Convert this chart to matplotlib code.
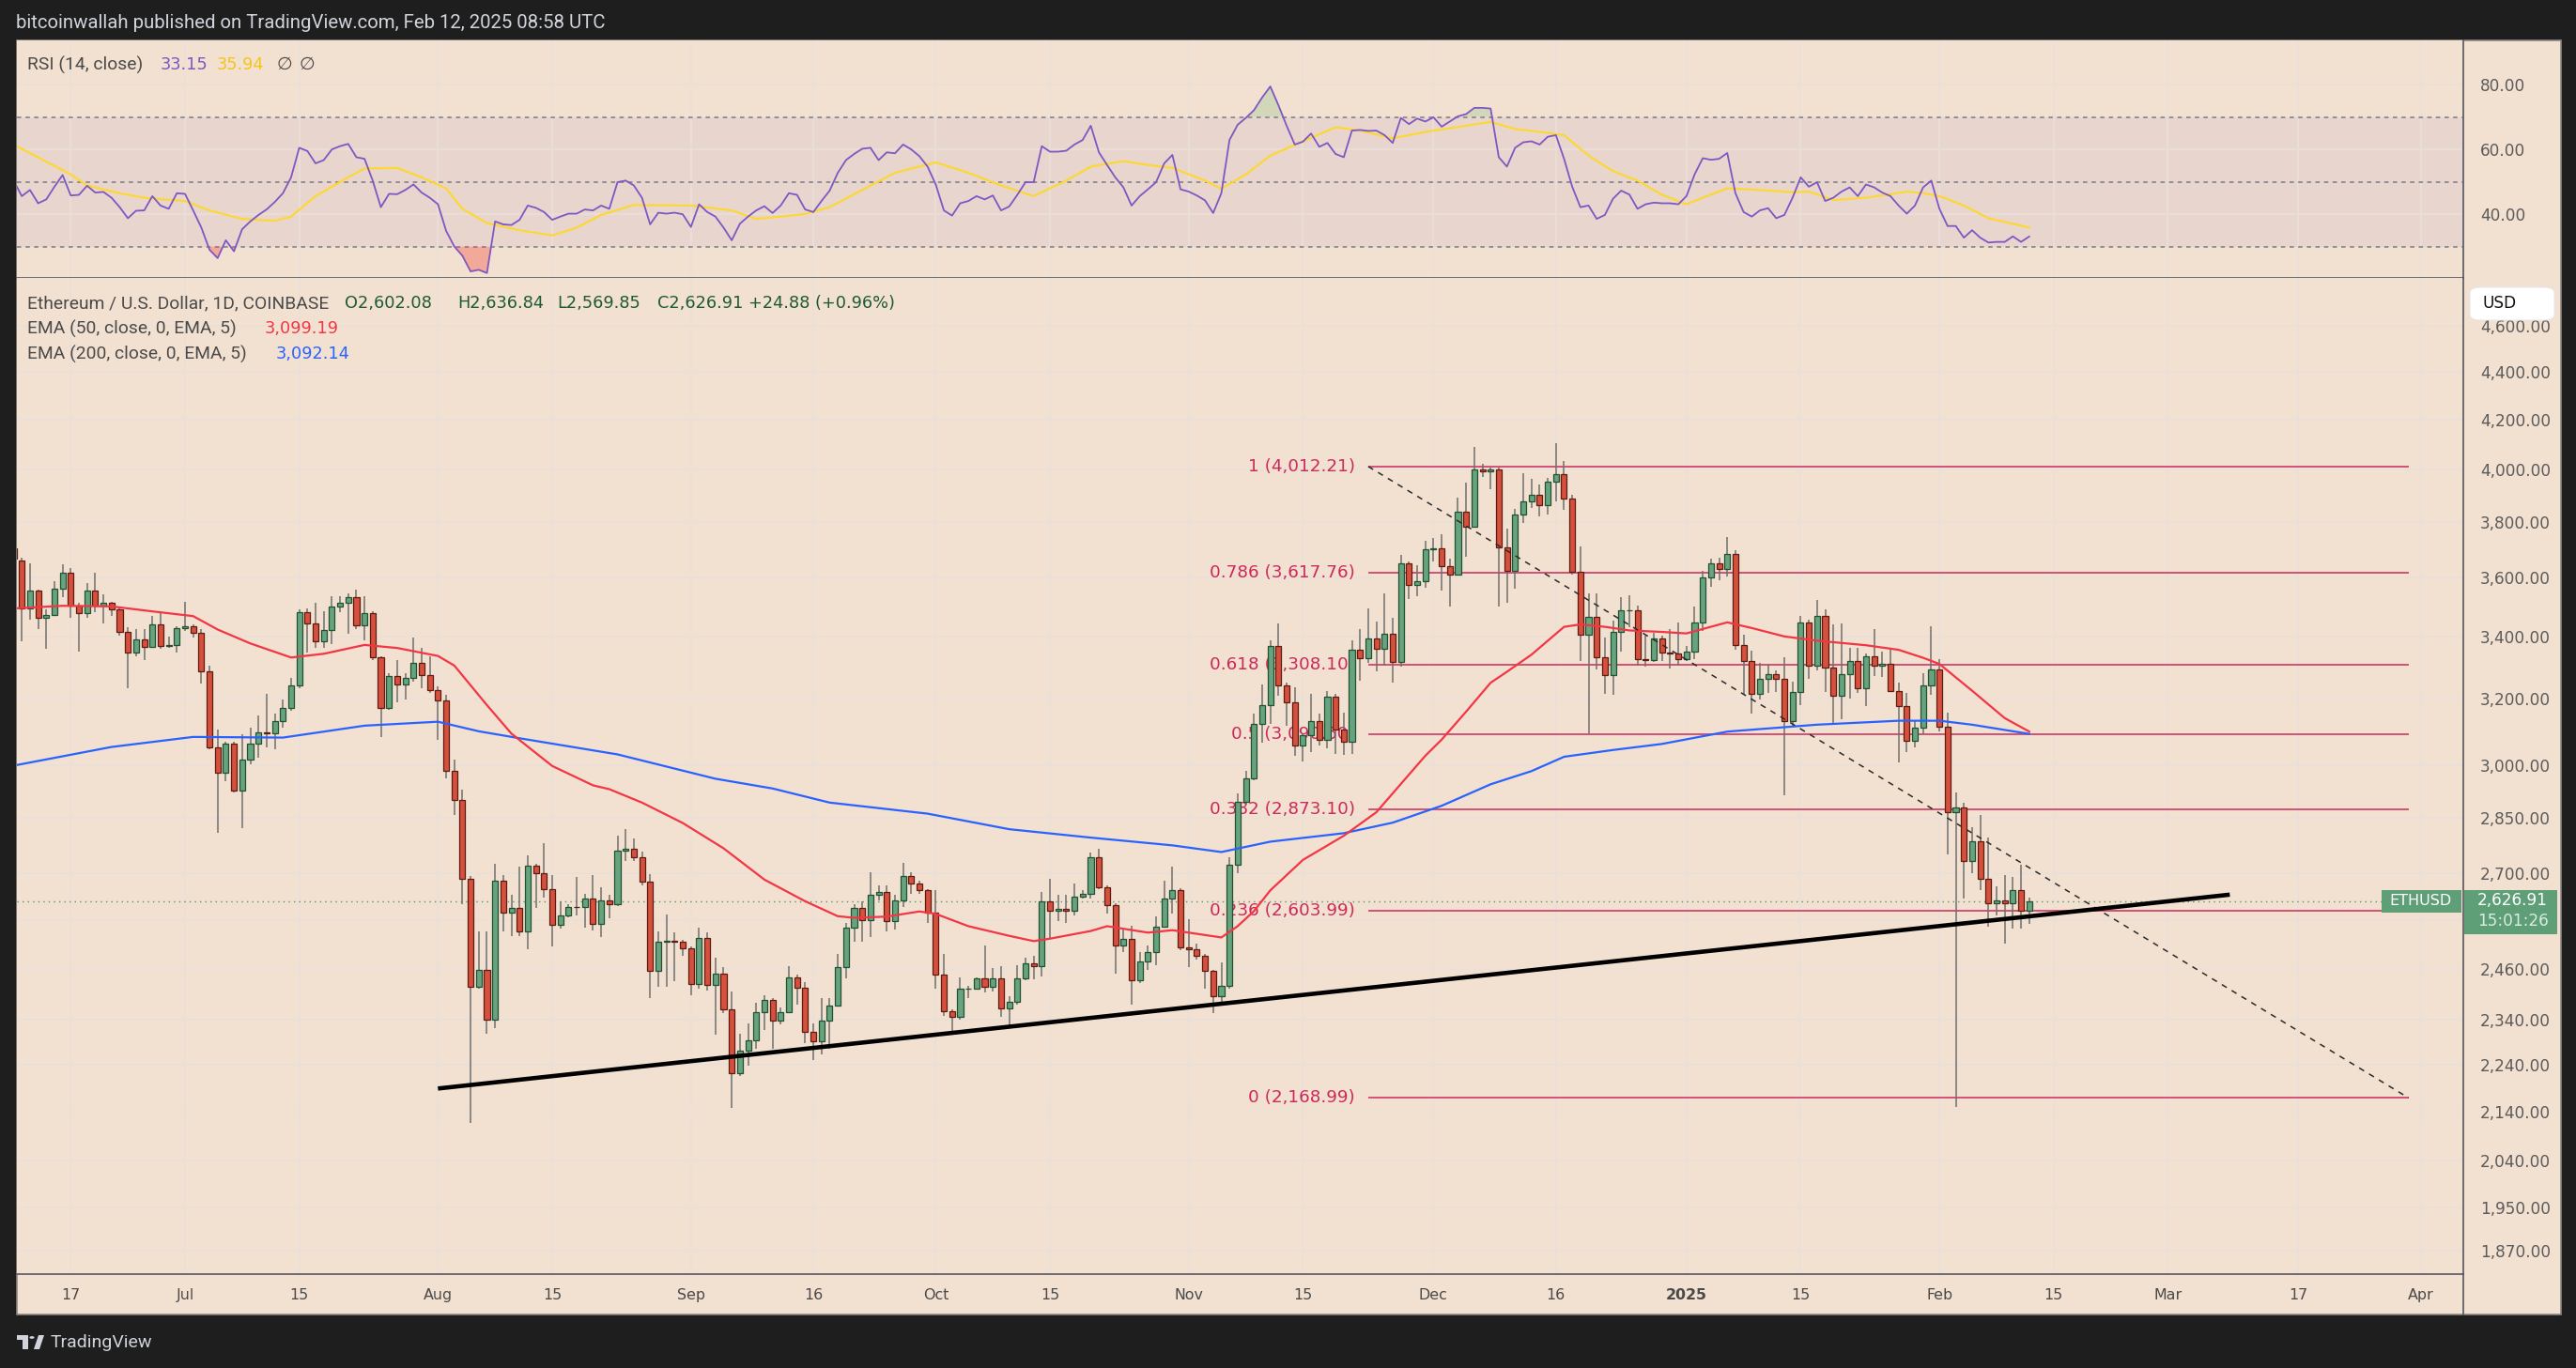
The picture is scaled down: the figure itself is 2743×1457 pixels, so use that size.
import matplotlib
matplotlib.use("Agg")
import matplotlib.pyplot as plt
import matplotlib.dates as mdates
from matplotlib.patches import Rectangle, FancyBboxPatch, Polygon, Circle
from matplotlib.lines import Line2D
from matplotlib.ticker import NullLocator
import numpy as np
import pandas as pd

plt.rcParams["font.family"] = ["DejaVu Sans"]

# ---------------- data (ETH/USD daily, COINBASE) ----------------
first_day = "2024-06-10"   # one candle per day up to 2025-02-12

opens = [
    3705, 3660, 3494, 3554, 3461, 3473, 3561, 3617, 3503, 3477, 3554, 3505, 3512, 3490, 3414, 3347, 3389, 3367, 3439, 3369, 3372,  # Jun
    3427, 3434, 3412, 3286, 3053, 2977, 3062, 2927, 3015, 3062, 3096, 3094, 3130, 3171, 3241, 3481, 3443, 3383, 3421, 3500, 3514, 3532, 3437, 3479, 3333, 3170, 3270, 3245, 3264, 3313, 3274,  # Jul
    3226, 3196, 2982, 2899, 2686, 2416, 2458, 2341, 2680, 2598, 2609, 2552, 2720, 2700, 2659, 2567, 2590, 2613, 2612, 2635, 2570, 2630, 2620, 2760, 2765, 2741, 2677, 2454, 2525, 2528, 2526,  # Aug
    2509, 2423, 2534, 2421, 2448, 2364, 2222, 2271, 2294, 2357, 2386, 2339, 2359, 2439, 2414, 2313, 2292, 2339, 2374, 2464, 2560, 2609, 2579, 2643, 2650, 2576, 2629, 2692, 2672, 2655,  # Sep
    2597, 2445, 2361, 2347, 2412, 2413, 2436, 2418, 2436, 2366, 2381, 2436, 2472, 2466, 2626, 2602, 2607, 2602, 2638, 2646, 2741, 2663, 2616, 2517, 2532, 2432, 2478, 2501, 2562, 2634, 2655,  # Oct
    2511, 2506, 2491, 2454, 2395, 2420, 2722, 2893, 2960, 3123, 3180, 3370, 3243, 3188, 3056, 3088, 3130, 3075, 3206, 3106, 3069, 3356, 3329, 3393, 3360, 3408, 3318, 3650, 3575, 3587,  # Nov
    3701, 3704, 3641, 3612, 3838, 3784, 4000, 3993, 4000, 3708, 3624, 3827, 3877, 3902, 3864, 3953, 3981, 3889, 3620, 3407, 3465, 3333, 3275, 3414, 3487, 3489, 3326, 3324, 3393, 3347, 3345,  # Dec
    3326, 3349, 3445, 3600, 3650, 3632, 3684, 3371, 3319, 3216, 3261, 3276, 3261, 3131, 3220, 3445, 3305, 3470, 3297, 3208, 3276, 3319, 3234, 3334, 3305, 3312, 3225, 3176, 3072, 3110, 3242,  # Jan
    3293, 3113, 2865, 2879, 2731, 2784, 2684, 2621, 2628, 2623, 2656, 2602.08,  # Feb
]
highs = [
    3720, 3670, 3650, 3560, 3490, 3587, 3647, 3634, 3512, 3582, 3618, 3543, 3516, 3498, 3430, 3423, 3423, 3470, 3480, 3401, 3433,
    3515, 3440, 3423, 3305, 3106, 3069, 3069, 3091, 3110, 3149, 3215, 3154, 3198, 3264, 3491, 3494, 3512, 3484, 3536, 3536, 3544, 3558, 3536, 3484, 3336, 3281, 3324, 3281, 3395, 3362, 3336,
    3238, 3213, 3015, 2930, 2693, 2552, 2552, 2724, 2695, 2644, 2716, 2748, 2724, 2780, 2695, 2626, 2620, 2690, 2646, 2695, 2662, 2643, 2800, 2819, 2792, 2758, 2698, 2552, 2593, 2548, 2529,
    2514, 2560, 2549, 2487, 2463, 2407, 2310, 2333, 2380, 2397, 2390, 2368, 2465, 2445, 2427, 2333, 2390, 2391, 2495, 2572, 2619, 2627, 2702, 2667, 2667, 2643, 2727, 2702, 2680, 2659,
    2655, 2496, 2365, 2439, 2420, 2440, 2517, 2461, 2466, 2395, 2468, 2487, 2491, 2651, 2684, 2643, 2643, 2672, 2655, 2754, 2764, 2669, 2623, 2556, 2564, 2501, 2517, 2588, 2680, 2717, 2661,
    2581, 2521, 2495, 2457, 2476, 2741, 2917, 2982, 3154, 3244, 3387, 3444, 3250, 3237, 3095, 3216, 3154, 3225, 3216, 3157, 3387, 3423, 3494, 3451, 3547, 3462, 3680, 3659, 3644, 3733,
    3741, 3757, 3668, 3894, 3951, 4090, 4023, 4007, 4007, 3776, 3848, 3985, 3963, 3943, 3968, 4103, 4035, 3902, 3710, 3547, 3547, 3397, 3454, 3532, 3538, 3505, 3404, 3411, 3404, 3423, 3448,
    3370, 3501, 3625, 3666, 3670, 3745, 3699, 3407, 3353, 3315, 3312, 3290, 3332, 3254, 3470, 3455, 3524, 3492, 3439, 3444, 3363, 3363, 3344, 3425, 3349, 3357, 3251, 3218, 3130, 3280, 3434,
    3327, 3158, 2920, 2891, 2823, 2857, 2794, 2666, 2694, 2691, 2721, 2636.84,
]
lows = [
    3640, 3385, 3457, 3423, 3359, 3468, 3533, 3461, 3349, 3461, 3480, 3443, 3470, 3404, 3232, 3334, 3324, 3362, 3360, 3362, 3346,
    3417, 3397, 3247, 3047, 2808, 2954, 2922, 2820, 3003, 3021, 3053, 3045, 3112, 3162, 3232, 3346, 3362, 3362, 3375, 3480, 3410, 3423, 3387, 3324, 3083, 3166, 3188, 3198, 3253, 3232, 3219,
    3075, 2962, 2857, 2620, 2116, 2412, 2309, 2321, 2552, 2539, 2539, 2507, 2610, 2636, 2515, 2559, 2586, 2591, 2560, 2554, 2537, 2583, 2615, 2731, 2733, 2667, 2391, 2418, 2418, 2430, 2491,
    2398, 2412, 2409, 2306, 2355, 2149, 2215, 2239, 2275, 2318, 2275, 2330, 2355, 2376, 2287, 2251, 2263, 2275, 2370, 2436, 2525, 2525, 2537, 2630, 2552, 2556, 2613, 2647, 2645, 2573,
    2412, 2350, 2310, 2340, 2390, 2410, 2404, 2405, 2348, 2326, 2376, 2432, 2434, 2442, 2534, 2576, 2573, 2591, 2635, 2635, 2659, 2595, 2449, 2501, 2376, 2425, 2458, 2468, 2560, 2596, 2505,
    2463, 2483, 2412, 2355, 2376, 2412, 2699, 2885, 2955, 3065, 3123, 3210, 3117, 3027, 3011, 3037, 3058, 3050, 3032, 3030, 3032, 3257, 3313, 3286, 3304, 3250, 3300, 3527, 3535, 3565,
    3659, 3556, 3501, 3610, 3675, 3781, 3972, 3926, 3501, 3513, 3563, 3797, 3853, 3820, 3828, 3877, 3845, 3610, 3319, 3094, 3292, 3216, 3212, 3350, 3431, 3306, 3300, 3317, 3319, 3296, 3306,
    3320, 3327, 3419, 3567, 3590, 3606, 3355, 3213, 3155, 3197, 3218, 3222, 2913, 3118, 3180, 3261, 3290, 3222, 3124, 3138, 3200, 3218, 3178, 3271, 3268, 3222, 3008, 3038, 3052, 3091, 3211,
    3099, 2749, 2150, 2633, 2700, 2656, 2563, 2590, 2521, 2558, 2558, 2569.85,
]
closes = [
    3667, 3494, 3554, 3461, 3473, 3561, 3617, 3503, 3477, 3554, 3505, 3512, 3490, 3414, 3347, 3389, 3367, 3439, 3369, 3372, 3427,
    3434, 3412, 3286, 3053, 2977, 3062, 2927, 3015, 3062, 3096, 3094, 3130, 3171, 3241, 3481, 3443, 3383, 3421, 3500, 3514, 3532, 3437, 3479, 3333, 3170, 3270, 3245, 3264, 3313, 3274, 3226,
    3196, 2982, 2899, 2686, 2416, 2458, 2341, 2680, 2598, 2609, 2552, 2720, 2700, 2659, 2567, 2590, 2613, 2612, 2635, 2570, 2630, 2620, 2760, 2765, 2741, 2677, 2454, 2525, 2528, 2526, 2509,
    2423, 2534, 2421, 2448, 2364, 2222, 2271, 2294, 2357, 2386, 2339, 2359, 2439, 2414, 2313, 2292, 2339, 2374, 2464, 2560, 2609, 2579, 2643, 2650, 2576, 2629, 2692, 2672, 2655, 2597,
    2445, 2361, 2347, 2412, 2413, 2436, 2418, 2436, 2366, 2381, 2436, 2472, 2466, 2626, 2602, 2607, 2602, 2638, 2646, 2741, 2663, 2616, 2517, 2532, 2432, 2478, 2501, 2562, 2634, 2655, 2511,
    2506, 2491, 2454, 2395, 2420, 2722, 2893, 2960, 3123, 3180, 3370, 3243, 3188, 3056, 3088, 3130, 3075, 3206, 3106, 3069, 3356, 3329, 3393, 3360, 3408, 3318, 3650, 3575, 3587, 3701,
    3704, 3641, 3612, 3838, 3784, 4000, 3993, 4000, 3708, 3624, 3827, 3877, 3902, 3864, 3953, 3981, 3889, 3620, 3407, 3465, 3333, 3275, 3414, 3487, 3489, 3326, 3324, 3393, 3347, 3345, 3326,
    3349, 3445, 3600, 3650, 3632, 3684, 3371, 3319, 3216, 3261, 3276, 3261, 3131, 3220, 3445, 3305, 3470, 3297, 3208, 3276, 3319, 3234, 3334, 3305, 3312, 3225, 3176, 3072, 3110, 3242, 3293,
    3113, 2865, 2879, 2731, 2784, 2684, 2621, 2628, 2623, 2656, 2602, 2626.91,
]

rsi_values = [
    50.4, 45.6, 47.5, 43.4, 44.6, 48.5, 52.1, 45.8, 46.0, 48.8, 46.7, 46.9, 45.1, 42.2, 38.8, 41.1, 41.2, 45.6, 42.7, 41.7, 46.5,
    46.3, 41.2, 35.9, 29.1, 26.5, 32.0, 28.6, 35.4, 37.8, 39.8, 41.5, 43.8, 46.5, 51.4, 60.5, 59.5, 55.7, 56.7, 60.0, 61.0, 61.7, 57.6, 57.1, 50.4, 42.2, 46.3, 46.2, 47.5, 49.2, 46.7, 45.1,
    43.1, 34.9, 30.1, 27.2, 22.4, 22.9, 21.9, 37.8, 36.9, 36.7, 38.3, 42.7, 42.0, 40.7, 38.3, 39.3, 40.2, 40.2, 41.5, 41.2, 42.7, 41.7, 49.9, 50.4, 48.9, 45.1, 36.9, 40.5, 40.2, 40.5, 40.0,
    36.1, 43.1, 40.7, 39.3, 35.9, 32.0, 37.1, 39.3, 41.2, 42.5, 40.4, 42.7, 46.5, 46.0, 41.5, 40.7, 44.1, 47.3, 52.8, 56.7, 58.6, 60.2, 60.5, 56.7, 59.1, 58.8, 61.5, 60.0, 57.9, 54.7,
    49.2, 41.2, 39.6, 43.4, 44.1, 45.6, 44.6, 45.8, 41.2, 42.4, 46.0, 49.9, 49.9, 61.0, 59.3, 59.3, 59.6, 61.5, 62.9, 67.3, 59.1, 55.2, 51.4, 48.3, 42.7, 45.6, 47.7, 49.9, 55.7, 58.3, 47.7,
    47.0, 45.8, 44.3, 40.4, 46.5, 62.9, 67.6, 69.7, 72.1, 76.0, 79.4, 73.6, 67.3, 61.5, 62.4, 64.9, 60.8, 62.0, 58.6, 57.6, 65.8, 66.0, 65.7, 65.8, 64.4, 62.0, 69.7, 67.8, 69.5, 68.6,
    69.9, 67.0, 68.6, 70.2, 70.9, 72.8, 72.8, 72.6, 57.6, 54.7, 60.5, 62.2, 62.5, 61.5, 63.9, 64.4, 57.1, 48.5, 42.2, 42.7, 38.6, 39.8, 44.8, 47.3, 46.1, 41.7, 43.1, 43.6, 43.4, 43.4, 43.1,
    45.6, 52.3, 57.3, 56.8, 57.1, 58.9, 46.5, 40.7, 39.3, 41.2, 41.9, 38.8, 39.8, 45.1, 51.4, 48.5, 49.9, 44.1, 45.1, 47.0, 48.3, 45.6, 49.2, 48.3, 46.7, 45.6, 42.7, 40.2, 42.7, 48.3, 50.4,
    41.7, 36.4, 36.4, 32.8, 35.1, 32.8, 31.3, 31.5, 31.5, 33.2, 31.5, 33.15,
]

rsi_ma_dates = [
    "2024-06-10", "2024-06-14", "2024-06-17", "2024-06-19", "2024-06-23", "2024-06-26", "2024-07-01", "2024-07-04",
    "2024-07-08", "2024-07-12", "2024-07-14", "2024-07-17", "2024-07-21", "2024-07-23", "2024-07-27", "2024-07-30",
    "2024-08-02", "2024-08-04", "2024-08-07", "2024-08-11", "2024-08-15", "2024-08-18", "2024-08-21", "2024-08-25",
    "2024-09-01", "2024-09-06", "2024-09-09", "2024-09-12", "2024-09-15", "2024-09-18", "2024-09-22", "2024-09-26",
    "2024-10-01", "2024-10-05", "2024-10-09", "2024-10-13", "2024-10-17", "2024-10-20", "2024-10-24", "2024-10-27",
    "2024-10-30", "2024-11-03", "2024-11-05", "2024-11-08", "2024-11-11", "2024-11-15", "2024-11-19", "2024-11-22",
    "2024-11-26", "2024-11-30", "2024-12-05", "2024-12-08", "2024-12-11", "2024-12-15", "2024-12-17", "2024-12-20",
    "2024-12-23", "2024-12-26", "2024-12-29", "2025-01-01", "2025-01-03", "2025-01-06", "2025-01-10", "2025-01-14",
    "2025-01-16", "2025-01-19", "2025-01-23", "2025-01-28", "2025-01-30", "2025-02-01", "2025-02-04", "2025-02-07",
    "2025-02-12",
]
rsi_ma_values = [
    61.5, 56.2, 52.3, 48.9, 46.5, 45.1, 44.1, 41.2,
    38.6, 38.0, 39.3, 45.6, 51.4, 54.1, 54.3, 51.4,
    48.0, 41.7, 37.3, 35.1, 33.5, 35.9, 39.8, 42.9,
    42.7, 41.2, 38.6, 39.3, 40.1, 42.2, 47.5, 52.8,
    56.0, 52.8, 48.9, 45.6, 50.4, 54.7, 56.4, 55.2,
    54.3, 50.4, 47.9, 52.3, 58.1, 62.5, 66.8, 65.8,
    63.4, 65.4, 67.3, 68.5, 66.3, 65.1, 64.4, 58.1,
    53.3, 50.4, 46.0, 43.1, 45.1, 48.0, 47.5, 46.8,
    47.0, 44.4, 45.1, 47.0, 46.5, 45.6, 42.7, 38.8,
    35.94,
]

ema50_dates = [
    "2024-06-10", "2024-06-16", "2024-06-22", "2024-06-27", "2024-07-02", "2024-07-05", "2024-07-09", "2024-07-14",
    "2024-07-18", "2024-07-23", "2024-07-27", "2024-08-01", "2024-08-03", "2024-08-07", "2024-08-10", "2024-08-15",
    "2024-08-20", "2024-08-22", "2024-08-26", "2024-08-31", "2024-09-05", "2024-09-10", "2024-09-15", "2024-09-19",
    "2024-09-21", "2024-09-25", "2024-09-29", "2024-10-01", "2024-10-05", "2024-10-10", "2024-10-13", "2024-10-15",
    "2024-10-20", "2024-10-22", "2024-10-27", "2024-10-30", "2024-11-05", "2024-11-07", "2024-11-09", "2024-11-11",
    "2024-11-15", "2024-11-20", "2024-11-24", "2024-11-27", "2024-11-30", "2024-12-02", "2024-12-05", "2024-12-08",
    "2024-12-10", "2024-12-13", "2024-12-17", "2024-12-19", "2024-12-22", "2024-12-25", "2024-12-29", "2025-01-01",
    "2025-01-06", "2025-01-09", "2025-01-13", "2025-01-17", "2025-01-23", "2025-01-27", "2025-01-30", "2025-02-01",
    "2025-02-05", "2025-02-09", "2025-02-12",
]
ema50_values = [
    3494, 3503, 3501, 3484, 3468, 3423, 3377, 3331,
    3343, 3372, 3362, 3336, 3305, 3180, 3093, 2997,
    2941, 2930, 2892, 2835, 2766, 2683, 2627, 2589,
    2585, 2588, 2601, 2595, 2564, 2540, 2527, 2533,
    2552, 2564, 2548, 2554, 2536, 2564, 2602, 2655,
    2735, 2800, 2865, 2945, 3027, 3075, 3160, 3250,
    3285, 3340, 3432, 3440, 3432, 3420, 3415, 3410,
    3447, 3428, 3400, 3386, 3371, 3356, 3330, 3310,
    3225, 3140, 3099.19,
]

ema200_dates = [
    "2024-06-10", "2024-06-22", "2024-07-02", "2024-07-13", "2024-07-23", "2024-08-01", "2024-08-06", "2024-08-11",
    "2024-08-23", "2024-09-04", "2024-09-11", "2024-09-18", "2024-09-30", "2024-10-10", "2024-10-20", "2024-10-30",
    "2024-11-05", "2024-11-11", "2024-11-20", "2024-11-26", "2024-12-02", "2024-12-08", "2024-12-13", "2024-12-17",
    "2024-12-23", "2024-12-29", "2025-01-06", "2025-01-17", "2025-01-27", "2025-02-01", "2025-02-05", "2025-02-12",
]
ema200_values = [
    2998, 3053, 3083, 3081, 3117, 3129, 3100, 3079,
    3031, 2960, 2932, 2892, 2861, 2818, 2795, 2774,
    2756, 2784, 2807, 2836, 2883, 2944, 2982, 3024,
    3044, 3062, 3099, 3120, 3132, 3132, 3120, 3092.14,
]

fib_labels = ["1", "0.786", "0.618", "0.5", "0.382", "0.236", "0"]
fib_prices = [4012.21, 3617.76, 3308.10, 3090.60, 2873.10, 2603.99, 2168.99]
fib_span = ["2024-11-23 00:00", "2025-03-30 12:00"]

support_dates = ["2024-08-01 00:00", "2025-03-08 14:00"]
support_prices = [2189, 2644]

price_ticks = [4600, 4400, 4200, 4000, 3800, 3600, 3400, 3200, 3000, 2850, 2700, 2580,
               2460, 2340, 2240, 2140, 2040, 1950, 1870]
rsi_ticks = [40, 60, 80]
date_ticks = ["2024-06-17", "2024-07-01", "2024-07-15", "2024-08-01", "2024-08-15", "2024-09-01",
              "2024-09-16", "2024-10-01", "2024-10-15", "2024-11-01", "2024-11-15", "2024-12-01",
              "2024-12-16", "2025-01-01", "2025-01-15", "2025-02-01", "2025-02-15", "2025-03-01",
              "2025-03-17", "2025-04-01"]
date_labels = ["17", "Jul", "15", "Aug", "15", "Sep", "16", "Oct", "15", "Nov", "15", "Dec",
               "16", "2025", "15", "Feb", "15", "Mar", "17", "Apr"]

# ---------------- style ----------------
W, H = 2743, 1457
DARK = "#1e1e1e"
BG = "#f2e0d0"
GRID = "#e9e0da"
FRAME = "#55565c"
UP, UP_EDGE = "#67a37e", "#1f5132"
DN, DN_EDGE = "#d6503e", "#5e1b12"
WICK = "#6f6f6f"
FIB = "#cc2a5c"
TXT = "#4a4a4a"
SANS = ["Roboto", "DejaVu Sans"]

fig = plt.figure(figsize=(W / 100, H / 100), dpi=100, facecolor=DARK)


def fbox(x0, y0, x1, y1):
    # pixel box measured from the top-left -> figure fraction rect
    return [x0 / W, 1 - y1 / H, (x1 - x0) / W, (y1 - y0) / H]


def fpt(xp, yp):
    return xp / W, 1 - yp / H


def todate(strings):
    return mdates.date2num(pd.to_datetime(strings, format="mixed"))


# chart frame (price scale and time scale included)
fx0, fy0, fw, fh = fbox(18, 43, 2727, 1400)
fig.add_artist(Rectangle((fx0, fy0), fw, fh, transform=fig.transFigure,
                         facecolor=BG, edgecolor="#8d8781", lw=1.2, zorder=-2))

ax_rsi = fig.add_axes(fbox(18, 43, 2623, 296))
ax = fig.add_axes(fbox(18, 296, 2623, 1357), sharex=ax_rsi)

for a in (ax, ax_rsi):
    a.set_facecolor(BG)
    for s in ("left", "top"):
        a.spines[s].set_visible(False)
    a.spines["right"].set_color(FRAME)
    a.spines["bottom"].set_color(FRAME)
    a.spines["right"].set_linewidth(1.2)
    a.spines["bottom"].set_linewidth(1.2)
    a.set_axisbelow(True)
    a.grid(True, color=GRID, lw=1.2)

# vertical separator continues through the time scale
fig.add_artist(Line2D([2623 / W, 2623 / W], [1 - 1400 / H, 1 - 1357 / H],
                      transform=fig.transFigure, color=FRAME, lw=1.2))

# ---------------- candles ----------------
days = pd.date_range(first_day, periods=len(closes), freq="D")
x = mdates.date2num(days)
o = np.array(opens, float)
c = np.array(closes, float)
hi = np.array(highs, float)
lo = np.array(lows, float)
up = c >= o
body_lo = np.minimum(o, c)
body_h = np.abs(c - o)

ax.vlines(x, lo, hi, color=WICK, lw=1.1, zorder=3)
ax.bar(x[up], body_h[up], bottom=body_lo[up], width=0.7, color=UP, edgecolor=UP_EDGE, lw=0.9, zorder=4)
ax.bar(x[~up], body_h[~up], bottom=body_lo[~up], width=0.7, color=DN, edgecolor=DN_EDGE, lw=0.9, zorder=4)

# EMAs
ax.plot(todate(ema200_dates), ema200_values, color="#2962ff", lw=1.6, zorder=5)
ax.plot(todate(ema50_dates), ema50_values, color="#f23645", lw=1.6, zorder=5)

# fib retracement
fx = todate(fib_span)
for lab, p in zip(fib_labels, fib_prices):
    ax.hlines(p, fx[0], fx[1], color=FIB, lw=1.1, zorder=2)
    ax.annotate(f"{lab} ({p:,.2f})", (fx[0], p), xytext=(-10, 0), textcoords="offset points",
                ha="right", va="center", color=FIB, fontsize=13.2, zorder=2)
ax.plot(fx, [fib_prices[0], fib_prices[-1]], color="#2b2b2b", lw=1.1, ls=(0, (4, 4)), zorder=6)

# rising support line
ax.plot(todate(support_dates), support_prices, color="black", lw=3.3,
        solid_capstyle="butt", zorder=6)

# last price dotted line
ax.axhline(c[-1], color="#4f9a6c", lw=1.0, ls=(0, (1, 3)), zorder=2)

ax.set_yscale("log")
ax.set_ylim(1827, 4821)
ax.set_xlim(mdates.date2num(pd.Timestamp("2024-07-01")) - 20.6,
            mdates.date2num(pd.Timestamp("2024-07-01")) + 279.2)

ax.yaxis.tick_right()
ax.set_yticks(price_ticks)
ax.set_yticklabels([f"{v:,.2f}" for v in price_ticks])
ax.yaxis.set_minor_locator(NullLocator())
ax.tick_params(axis="y", length=0, pad=13, labelsize=12.2, labelcolor="#5b5b5b")

ax.set_xticks(todate(date_ticks))
ax.set_xticklabels(date_labels)
ax.tick_params(axis="x", length=0, pad=11, labelsize=11.4, labelcolor=TXT)
for t in ax.get_xticklabels():
    if t.get_text() == "2025":
        t.set_fontweight("bold")

# ---------------- RSI ----------------
ax_rsi.axhspan(30, 70, color="#7e57c2", alpha=0.08, lw=0, zorder=0)
for lvl in (70, 50, 30):
    ax_rsi.axhline(lvl, color="#787b86", lw=1.1, ls=(0, (3, 3)), zorder=1)
rsi = np.array(rsi_values, float)
ax_rsi.fill_between(x, rsi, 70, where=rsi >= 70, interpolate=True, color="#66bb6a", alpha=0.22, lw=0)
ax_rsi.fill_between(x, rsi, 30, where=rsi <= 30, interpolate=True, color="#f44336", alpha=0.35, lw=0)
ax_rsi.plot(todate(rsi_ma_dates), rsi_ma_values, color="#fdd835", lw=1.6, zorder=3)
ax_rsi.plot(x, rsi, color="#7e57c2", lw=1.3, zorder=4)
ax_rsi.set_ylim(20.4, 93.6)
ax_rsi.yaxis.tick_right()
ax_rsi.set_yticks(rsi_ticks)
ax_rsi.set_yticklabels([f"{v:.2f}" for v in rsi_ticks])
ax_rsi.tick_params(axis="y", length=0, pad=13, labelsize=12.2, labelcolor="#5b5b5b")
ax_rsi.tick_params(axis="x", length=0, labelbottom=False)

# ---------------- text ----------------
fig.text(*fpt(17, 25), "bitcoinwallah published on TradingView.com, Feb 12, 2025 08:58 UTC",
         color="#d1d4dc", fontsize=14.7, va="center", family=SANS)

LEG = 13.9
NUM = 12.8   # values use wider digits
legend_rows = [
    (69, [(29, "RSI (14, close)", TXT, False), (171, "33.15", "#7e57c2", True), (231, "35.94", "#f5c518", True),
          (295, "\u2205", TXT, False), (319, "\u2205", TXT, False)]),
    (323, [(29, "Ethereum / U.S. Dollar, 1D, COINBASE", TXT, False), (367, "O2,602.08", "#1f5a36", True),
           (487, "H2,636.84", "#1f5a36", True), (593, "L2,569.85", "#1f5a36", True),
           (700, "C2,626.91", "#1f5a36", True), (797, "+24.88 (+0.96%)", "#1f5a36", True)]),
    (350, [(29, "EMA (50, close, 0, EMA, 5)", TXT, False), (282, "3,099.19", "#f23645", True)]),
    (377, [(29, "EMA (200, close, 0, EMA, 5)", TXT, False), (294, "3,092.14", "#2962ff", True)]),
]
for yp, parts in legend_rows:
    for xp, s, col, is_num in parts:
        if is_num:
            fig.text(*fpt(xp, yp), s, color=col, fontsize=NUM, va="center", ha="left",
                     family=["DejaVu Sans"])
        else:
            fig.text(*fpt(xp, yp), s, color=col, fontsize=LEG, va="center", ha="left", family=SANS)

# price scale overlays
usd = FancyBboxPatch((2630 / W, 1 - 341 / H), 90 / W, 35 / H, boxstyle="round,pad=0,rounding_size=0.004",
                     transform=fig.transFigure, facecolor="white", edgecolor="#e6e6e6", lw=0.8, zorder=10)
fig.add_artist(usd)
fig.text(*fpt(2662, 323), "USD", color="#111111", fontsize=12.2, va="center", ha="center", zorder=11)

yc = H - ax.transData.transform((x[-1], c[-1]))[1]
GREEN_TAG = "#5f9f78"
fig.add_artist(Rectangle((2536 / W, 1 - (yc + 12) / H), 85 / W, 24 / H, transform=fig.transFigure,
                         facecolor=GREEN_TAG, edgecolor="none", zorder=10))
fig.text(*fpt(2578, yc), "ETHUSD", color="white", fontsize=11.5, va="center", ha="center", zorder=11)
fig.add_artist(Rectangle((2624 / W, 1 - (yc + 35) / H), 99 / W, 47 / H, transform=fig.transFigure,
                         facecolor=GREEN_TAG, edgecolor="none", zorder=10))
fig.text(*fpt(2638, yc - 1), f"{c[-1]:,.2f}", color="white", fontsize=12.2, va="center", ha="left", zorder=11)
fig.text(*fpt(2638, yc + 21), "15:01:26", color="#d8ece0", fontsize=12.2, va="center", ha="left", zorder=11)

# footer logo + name
LOGO = "#d1d4dc"
fig.add_artist(Polygon([fpt(18, 1422), fpt(30, 1422), fpt(30, 1437), fpt(24, 1437), fpt(24, 1427), fpt(18, 1427)],
                       closed=True, transform=fig.transFigure, facecolor=LOGO, edgecolor="none"))
fig.add_artist(Circle(fpt(34, 1424.5), 2.6 / W, transform=fig.transFigure, facecolor=LOGO, edgecolor="none"))
fig.add_artist(Polygon([fpt(36, 1437), fpt(41, 1422), fpt(47, 1422), fpt(42, 1437)],
                       closed=True, transform=fig.transFigure, facecolor=LOGO, edgecolor="none"))
fig.text(*fpt(54, 1430), "TradingView", color=LOGO, fontsize=14, va="center", ha="left", family=SANS)

fig.savefig("out.png", dpi=100, facecolor=DARK)
